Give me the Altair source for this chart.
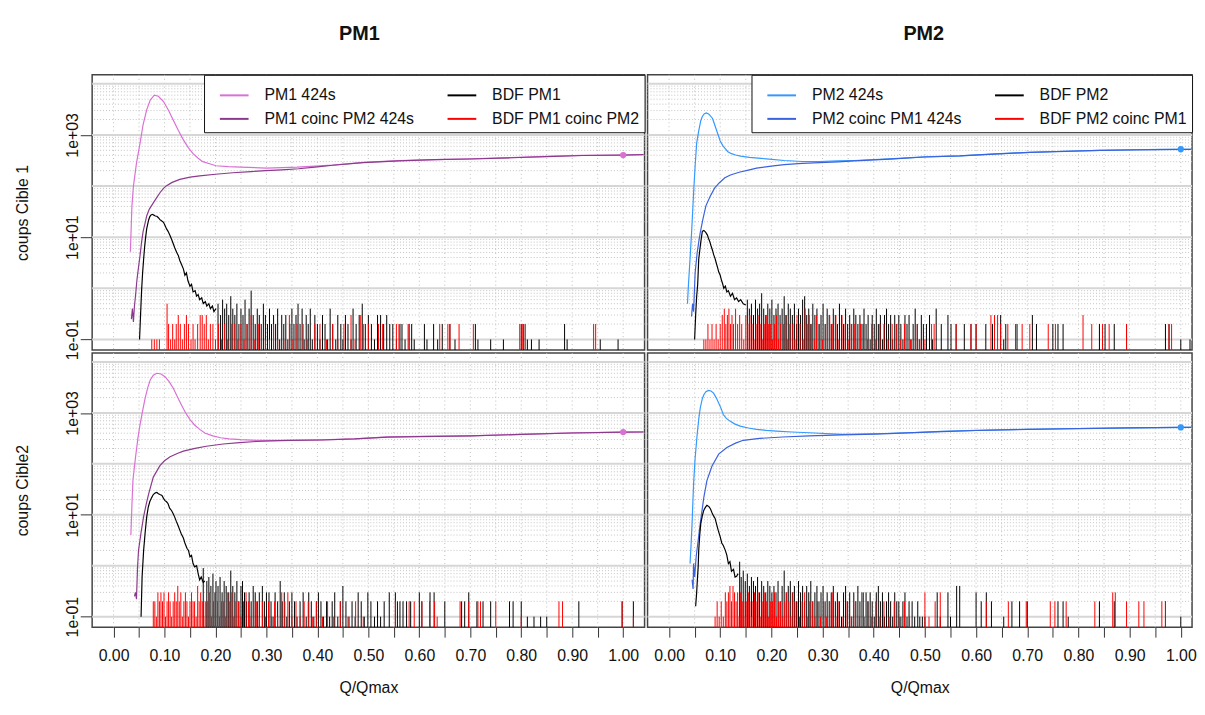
import altair as alt
import pandas as pd

FONT = "Liberation Sans"

# ---------------- axis ticks / labels ----------------
X_TICKS = [0.00, 0.05, 0.10, 0.15, 0.20, 0.25, 0.30, 0.35, 0.40, 0.45, 0.50,
           0.55, 0.60, 0.65, 0.70, 0.75, 0.80, 0.85, 0.90, 0.95, 1.00]
Y_TICKS = [0.1, 10, 1000]
Y_TICK_LABELS = ["1e-01", "1e+01", "1e+03"]
Y_DECADES = [0.1, 1, 10, 100, 1000, 10000]
Y_MINOR = [k * d for d in [0.1, 1, 10, 100, 1000] for k in range(2, 10)]
Y_DOMAIN = [0.062, 15000]

# legend order (column-major): col 1 = signal curves, col 2 = background
LEG_PM1 = ["PM1 424s", "PM1 coinc PM2 424s", "BDF PM1", "BDF PM1 coinc PM2"]
LEG_PM2 = ["PM2 424s", "PM2 coinc PM1 424s", "BDF PM2", "BDF PM2 coinc PM1"]
COL_PM1 = ["#DA70D6", "#8B3A8B", "#000000", "#FF0000"]
COL_PM2 = ["#3399FF", "#3A62DE", "#000000", "#FF0000"]

# ---------------- Top-left: PM1, Cible 1 ----------------
tl_a = [(0.033,5.2),(0.036,40),(0.039,100),(0.045,280),(0.052,690),(0.058,1600),(0.065,3100),
        (0.072,4800),(0.080,6000),(0.088,5700),(0.098,4500),(0.108,3000),(0.117,1950),(0.127,1230),
        (0.137,800),(0.147,560),(0.156,430),(0.166,350),(0.175,300),(0.190,270),(0.201,250),
        (0.225,240),(0.250,235),(0.300,225),(0.360,235),(0.430,257),(0.490,290),(0.560,315),
        (0.630,330),(0.700,340),(0.780,360),(0.850,380),(0.920,398),(1.000,405),(1.040,414)]
tl_b = [(0.035,0.25),(0.037,0.4),(0.039,0.22),(0.041,0.45),(0.043,0.7),(0.046,1.5),(0.049,2.6),
        (0.052,4.4),(0.055,8),(0.058,13),(0.062,19),(0.065,26),(0.070,35),(0.078,47),(0.085,60),
        (0.091,74),(0.098,90),(0.104,102),(0.115,118),(0.130,135),(0.150,150),(0.169,158),
        (0.200,170),(0.234,182),(0.270,192),(0.298,200),(0.330,208),(0.363,218),(0.400,238),
        (0.430,255),(0.490,288),(0.560,312),(0.630,328),(0.700,338),(0.780,358),(0.850,378),
        (0.920,396),(1.000,404),(1.040,411)]
tl_c = [(0.051,0.1),(0.053,0.3),(0.055,0.9),(0.057,2.0),(0.059,3.7),(0.061,6.5),(0.063,10),
        (0.065,14.5),(0.067,18),(0.069,22),(0.071,25),(0.073,27),(0.076,28),(0.079,27),(0.082,26),
        (0.085,25.7),(0.088,24),(0.091,22),(0.094,21),(0.098,19.5),(0.101,17),(0.104,14.5),
        (0.107,13),(0.111,10.7),(0.114,9),(0.117,7.5),(0.120,6.2),(0.124,5.0),(0.127,4.4),
        (0.130,3.5),(0.133,3.0),(0.137,2.4),(0.140,1.8),(0.143,2.0),(0.146,1.4),(0.150,1.1),
        (0.153,1.2),(0.156,0.85),(0.160,0.9),(0.163,0.7),(0.166,0.75),(0.169,0.6),(0.173,0.65),
        (0.176,0.5),(0.180,0.55),(0.183,0.45),(0.187,0.5),(0.190,0.4),(0.194,0.45),(0.197,0.35),
        (0.201,0.4)]
tl_ct = [(0.205,0.5),(0.21,0.3),(0.214,0.6),(0.218,0.4),(0.222,0.5),(0.226,0.3),(0.23,0.7),
         (0.234,0.4),(0.238,0.3),(0.242,0.5),(0.246,0.2),(0.25,0.4),(0.254,0.3),(0.258,0.6),
         (0.262,0.2),(0.266,0.4),(0.27,0.9),(0.274,0.3),(0.278,0.2),(0.282,0.4),(0.286,0.3),
         (0.29,0.2),(0.294,0.5),(0.298,0.3),(0.302,0.2),(0.306,0.4),(0.31,0.2),(0.314,0.3),
         (0.318,0.2),(0.322,0.4),(0.326,0.1),(0.33,0.3),(0.334,0.2),(0.338,0.3),(0.342,0.1),
         (0.346,0.2),(0.35,0.4),(0.354,0.2),(0.358,0.3),(0.362,0.5),(0.366,0.2),(0.37,0.4),
         (0.374,0.1),(0.378,0.3),(0.382,0.2),(0.386,0.4),(0.39,0.1),(0.395,0.3),(0.40,0.2),
         (0.405,0.1),(0.41,0.3),(0.415,0.2),(0.42,0.1),(0.425,0.4),(0.43,0.2),(0.436,0.1),
         (0.44,0.3),(0.446,0.2),(0.45,0.1),(0.455,0.3),(0.46,0.2),(0.466,0.1),(0.47,0.4),
         (0.476,0.2),(0.482,0.3),(0.488,0.5),(0.494,0.2),(0.5,0.3),(0.506,0.2),(0.512,0.1),
         (0.518,0.3),(0.524,0.3),(0.53,0.2),(0.536,0.3),(0.542,0.2),(0.548,0.2),(0.555,0.1),
         (0.562,0.2),(0.566,0.2),(0.572,0.1),(0.58,0.2),(0.585,0.2),(0.59,0.1),(0.61,0.2),
         (0.615,0.1),(0.628,0.2),(0.636,0.1),(0.645,0.2),(0.66,0.2),(0.67,0.1),(0.71,0.2),
         (0.715,0.1),(0.74,0.1),(0.765,0.1),(0.8,0.2),(0.805,0.2),(0.812,0.1),(0.82,0.1),
         (0.835,0.1),(0.885,0.2),(0.89,0.1),(0.955,0.1),(0.99,0.1)]
tl_r = [(0.075,0.1),(0.08,0.1),(0.085,0.1),(0.09,0.1),(0.105,0.5),(0.108,0.2),(0.112,0.1),
        (0.116,0.2),(0.12,0.1),(0.123,0.2),(0.127,0.3),(0.131,0.2),(0.135,0.1),(0.139,0.2),
        (0.143,0.3),(0.147,0.2),(0.152,0.1),(0.156,0.2),(0.16,0.1),(0.165,0.2),(0.17,0.3),
        (0.174,0.3),(0.178,0.2),(0.182,0.3),(0.186,0.1),(0.19,0.2),(0.195,0.2),(0.2,0.1),
        (0.206,0.2),(0.212,0.1),(0.218,0.2),(0.224,0.1),(0.232,0.2),(0.238,0.2),(0.244,0.1),
        (0.25,0.2),(0.256,0.1),(0.262,0.2),(0.27,0.3),(0.276,0.1),(0.284,0.2),(0.29,0.2),
        (0.298,0.1),(0.306,0.1),(0.314,0.2),(0.322,0.1),(0.334,0.1),(0.345,0.3),(0.352,0.1),
        (0.36,0.2),(0.372,0.2),(0.38,0.1),(0.395,0.2),(0.405,0.2),(0.418,0.1),(0.43,0.2),
        (0.44,0.1),(0.452,0.2),(0.466,0.3),(0.474,0.1),(0.485,0.3),(0.49,0.2),(0.5,0.2),
        (0.52,0.2),(0.528,0.2),(0.555,0.2),(0.56,0.2),(0.578,0.2),(0.64,0.2),(0.656,0.2),
        (0.66,0.2),(0.678,0.2),(0.706,0.2),(0.797,0.2),(0.802,0.2),(0.808,0.2),(0.942,0.2),
        (0.946,0.2)]
tl_dot = [(1.0, 405)]

# ---------------- Top-right: PM2, Cible 1 ----------------
tr_a = [(0.036,0.5),(0.038,1.2),(0.041,3.7),(0.044,12),(0.048,74),(0.051,250),(0.054,690),
        (0.058,1200),(0.062,1900),(0.065,2300),(0.069,2600),(0.073,2700),(0.078,2550),
        (0.085,2100),(0.090,1500),(0.095,1070),(0.100,760),(0.105,620),(0.109,550),(0.115,470),
        (0.122,430),(0.130,405),(0.140,385),(0.157,365),(0.190,340),(0.225,316),(0.260,302),
        (0.294,302),(0.330,310),(0.362,316),(0.431,340),(0.499,372),(0.568,390),(0.636,425),
        (0.705,457),(0.773,480),(0.842,500),(0.910,513),(0.960,520),(1.000,525),(1.020,525)]
tr_b = [(0.044,0.28),(0.046,0.5),(0.048,0.35),(0.051,2.0),(0.055,5),(0.058,8),(0.061,12.3),
        (0.066,22),(0.072,41),(0.080,62),(0.089,91),(0.098,115),(0.109,145),(0.120,165),
        (0.137,186),(0.155,205),(0.171,224),(0.200,245),(0.225,263),(0.260,278),(0.294,288),
        (0.330,298),(0.362,312),(0.431,337),(0.499,370),(0.568,388),(0.636,423),(0.705,455),
        (0.773,478),(0.842,498),(0.910,511),(0.960,518),(1.000,523),(1.020,524)]
tr_c = [(0.050,0.1),(0.052,0.3),(0.054,0.7),(0.056,1.2),(0.058,3.7),(0.060,5.5),(0.062,8),
        (0.065,13),(0.068,13.5),(0.070,13),(0.072,12.3),(0.075,11),(0.077,9.5),(0.080,8),
        (0.082,6.8),(0.085,5.5),(0.087,4.6),(0.090,3.8),(0.092,3.2),(0.095,2.5),(0.097,2.1),
        (0.100,1.8),(0.102,1.5),(0.105,1.2),(0.107,1.0),(0.110,1.1),(0.113,0.85),(0.116,0.9),
        (0.120,0.7),(0.124,0.8),(0.128,0.6),(0.132,0.65),(0.136,0.55),(0.140,0.6),(0.145,0.5),
        (0.150,0.47)]
tr_ct = [(0.153,0.6),(0.157,0.4),(0.161,0.5),(0.165,0.3),(0.169,0.6),(0.173,0.4),(0.177,0.5),
         (0.181,0.8),(0.185,0.4),(0.189,0.3),(0.193,0.5),(0.197,0.4),(0.201,0.6),(0.205,0.3),
         (0.209,0.4),(0.213,0.5),(0.217,0.3),(0.221,0.4),(0.225,0.7),(0.229,0.3),(0.233,0.5),
         (0.237,0.4),(0.241,0.3),(0.245,0.5),(0.249,0.2),(0.253,0.4),(0.257,0.3),(0.261,0.6),
         (0.265,0.7),(0.269,0.3),(0.273,0.4),(0.277,0.2),(0.281,0.5),(0.285,0.3),(0.289,0.4),
         (0.293,0.2),(0.297,0.3),(0.301,0.5),(0.305,0.2),(0.309,0.4),(0.313,0.3),(0.317,0.2),
         (0.321,0.4),(0.325,0.3),(0.329,0.2),(0.333,0.5),(0.337,0.3),(0.341,0.2),(0.345,0.4),
         (0.349,0.2),(0.353,0.3),(0.357,0.2),(0.361,0.4),(0.365,0.3),(0.369,0.2),(0.373,0.3),
         (0.377,0.2),(0.381,0.4),(0.385,0.2),(0.389,0.3),(0.393,0.1),(0.397,0.3),(0.401,0.2),
         (0.405,0.4),(0.409,0.2),(0.413,0.3),(0.417,0.1),(0.421,0.3),(0.425,0.4),(0.429,0.2),
         (0.433,0.3),(0.437,0.1),(0.441,0.3),(0.445,0.2),(0.449,0.3),(0.453,0.2),(0.457,0.1),
         (0.461,0.3),(0.465,0.2),(0.469,0.3),(0.473,0.1),(0.477,0.2),(0.481,0.4),(0.485,0.2),
         (0.489,0.1),(0.493,0.3),(0.497,0.2),(0.503,0.2),(0.509,0.3),(0.515,0.1),(0.522,0.4),
         (0.532,0.2),(0.545,0.3),(0.551,0.2),(0.561,0.2),(0.577,0.2),(0.59,0.2),(0.6,0.2),
         (0.619,0.2),(0.632,0.2),(0.648,0.3),(0.654,0.1),(0.658,0.2),(0.68,0.2),(0.71,0.3),
         (0.718,0.2),(0.75,0.2),(0.76,0.2),(0.77,0.2),(0.841,0.2),(0.847,0.1),(0.852,0.2),
         (0.87,0.2),(0.894,0.2),(0.97,0.2),(0.977,0.2),(1.0,0.1),(1.018,0.1)]
tr_r = [(0.068,0.1),(0.072,0.1),(0.076,0.2),(0.08,0.1),(0.084,0.2),(0.088,0.1),(0.092,0.2),
        (0.096,0.1),(0.1,0.2),(0.104,0.3),(0.108,0.4),(0.111,0.2),(0.114,0.3),(0.117,0.4),
        (0.12,0.2),(0.123,0.3),(0.126,0.2),(0.13,0.4),(0.134,0.2),(0.138,0.3),(0.142,0.2),
        (0.146,0.1),(0.15,0.3),(0.154,0.2),(0.158,0.3),(0.162,0.2),(0.166,0.1),(0.17,0.2),
        (0.174,0.3),(0.178,0.2),(0.182,0.1),(0.186,0.2),(0.19,0.3),(0.194,0.2),(0.198,0.2),
        (0.202,0.1),(0.206,0.2),(0.21,0.3),(0.214,0.1),(0.218,0.2),(0.224,0.2),(0.228,0.3),
        (0.232,0.1),(0.236,0.2),(0.242,0.2),(0.246,0.1),(0.25,0.3),(0.256,0.2),(0.262,0.1),
        (0.266,0.4),(0.27,0.2),(0.274,0.3),(0.278,0.2),(0.284,0.1),(0.288,0.3),(0.294,0.2),
        (0.3,0.1),(0.306,0.2),(0.314,0.3),(0.32,0.2),(0.326,0.3),(0.332,0.1),(0.338,0.3),
        (0.344,0.2),(0.35,0.1),(0.356,0.2),(0.362,0.2),(0.368,0.1),(0.374,0.2),(0.38,0.2),
        (0.388,0.1),(0.396,0.2),(0.404,0.1),(0.412,0.2),(0.42,0.2),(0.428,0.1),(0.436,0.2),
        (0.444,0.2),(0.452,0.1),(0.46,0.2),(0.472,0.1),(0.482,0.2),(0.49,0.1),(0.5,0.1),
        (0.513,0.2),(0.518,0.2),(0.561,0.2),(0.59,0.2),(0.6,0.2),(0.629,0.3),(0.636,0.3),
        (0.642,0.3),(0.648,0.2),(0.662,0.2),(0.677,0.2),(0.69,0.2),(0.705,0.2),(0.741,0.2),
        (0.755,0.2),(0.809,0.3),(0.826,0.2),(0.847,0.2),(0.86,0.2),(0.894,0.2),(0.977,0.2),
        (0.982,0.2)]
tr_dot = [(1.0, 525)]

# ---------------- Bottom-left: PM1, Cible2 ----------------
bl_a = [(0.034,4),(0.036,15),(0.038,47),(0.043,132),(0.048,330),(0.052,590),(0.057,1100),
        (0.062,1950),(0.067,3100),(0.072,4450),(0.078,5500),(0.085,6000),(0.093,5800),
        (0.101,5150),(0.109,4100),(0.117,3080),(0.125,2100),(0.133,1450),(0.141,1020),
        (0.150,740),(0.159,580),(0.169,475),(0.180,400),(0.195,355),(0.210,325),(0.227,310),
        (0.250,298),(0.279,290),(0.344,290),(0.408,295),(0.473,310),(0.538,338),(0.600,345),
        (0.700,355),(0.800,380),(0.900,405),(1.000,420),(1.040,424)]
bl_b = [(0.041,0.25),(0.043,0.3),(0.045,0.22),(0.047,0.9),(0.049,2.0),(0.054,4.5),(0.059,9.2),
        (0.064,16),(0.069,26),(0.078,55),(0.091,92),(0.100,115),(0.111,138),(0.125,160),
        (0.137,178),(0.160,202),(0.182,222),(0.215,245),(0.247,262),(0.280,275),(0.311,283),
        (0.344,288),(0.408,294),(0.473,309),(0.538,336),(0.600,343),(0.700,353),(0.800,378),
        (0.900,403),(1.000,418),(1.040,422)]
bl_c = [(0.054,0.1),(0.056,0.6),(0.059,2.0),(0.062,4.5),(0.065,9),(0.068,14),(0.071,18),
        (0.075,22),(0.078,25),(0.082,27),(0.085,27.5),(0.088,26),(0.091,25),(0.095,24),
        (0.098,21),(0.101,19),(0.104,18),(0.107,16.5),(0.110,13.5),(0.114,12),(0.117,10.5),
        (0.120,9),(0.123,7.5),(0.127,6),(0.130,5),(0.133,4.2),(0.137,3.5),(0.140,2.8),
        (0.144,2.2),(0.147,2.0),(0.150,1.5),(0.153,1.6),(0.156,1.1),(0.159,0.95),(0.163,1.0),
        (0.166,0.7),(0.169,0.53),(0.172,0.6),(0.176,0.47),(0.179,0.5)]
bl_ct = [(0.176,0.9),(0.183,0.5),(0.187,0.6),(0.191,0.4),(0.195,0.7),(0.199,0.3),(0.201,0.5),
         (0.205,0.4),(0.209,0.6),(0.213,0.3),(0.217,0.5),(0.221,0.4),(0.226,0.3),(0.23,0.8),
         (0.234,0.4),(0.238,0.3),(0.242,0.5),(0.246,0.2),(0.25,0.4),(0.253,0.5),(0.257,0.3),
         (0.261,0.2),(0.266,0.3),(0.27,0.2),(0.274,0.4),(0.278,0.3),(0.282,0.2),(0.286,0.3),
         (0.292,0.4),(0.296,0.2),(0.3,0.3),(0.305,0.3),(0.309,0.2),(0.313,0.1),(0.317,0.3),
         (0.322,0.2),(0.327,0.5),(0.331,0.2),(0.335,0.3),(0.34,0.1),(0.345,0.2),(0.35,0.3),
         (0.355,0.2),(0.36,0.1),(0.366,0.2),(0.372,0.3),(0.378,0.1),(0.383,0.3),(0.388,0.2),
         (0.393,0.1),(0.398,0.2),(0.402,0.3),(0.407,0.2),(0.412,0.1),(0.418,0.2),(0.424,0.1),
         (0.429,0.2),(0.434,0.3),(0.44,0.1),(0.445,0.2),(0.45,0.4),(0.456,0.2),(0.462,0.1),
         (0.468,0.2),(0.474,0.1),(0.48,0.3),(0.486,0.2),(0.492,0.1),(0.499,0.3),(0.505,0.2),
         (0.512,0.1),(0.518,0.2),(0.524,0.1),(0.531,0.2),(0.541,0.3),(0.553,0.3),(0.557,0.2),
         (0.562,0.2),(0.568,0.2),(0.575,0.2),(0.583,0.2),(0.6,0.3),(0.605,0.2),(0.621,0.3),
         (0.629,0.3),(0.65,0.2),(0.683,0.2),(0.689,0.2),(0.697,0.3),(0.713,0.2),(0.725,0.2),
         (0.74,0.2),(0.777,0.2),(0.784,0.2),(0.8,0.2),(0.812,0.1),(0.825,0.1),(0.838,0.1),
         (0.85,0.1),(0.913,0.2),(0.998,0.2),(1.02,0.2)]
bl_r = [(0.078,0.2),(0.081,0.2),(0.084,0.1),(0.087,0.3),(0.09,0.2),(0.093,0.3),(0.096,0.2),
        (0.099,0.3),(0.102,0.1),(0.105,0.2),(0.108,0.3),(0.111,0.2),(0.114,0.1),(0.117,0.2),
        (0.12,0.3),(0.123,0.2),(0.126,0.4),(0.129,0.2),(0.132,0.3),(0.135,0.1),(0.138,0.2),
        (0.141,0.3),(0.144,0.2),(0.147,0.1),(0.15,0.2),(0.153,0.3),(0.156,0.2),(0.159,0.2),
        (0.162,0.1),(0.165,0.4),(0.168,0.2),(0.171,0.3),(0.174,0.2),(0.177,0.1),(0.18,0.2),
        (0.184,0.2),(0.188,0.3),(0.192,0.1),(0.196,0.2),(0.2,0.3),(0.204,0.2),(0.208,0.1),
        (0.212,0.2),(0.216,0.2),(0.22,0.1),(0.224,0.3),(0.228,0.2),(0.232,0.3),(0.236,0.1),
        (0.24,0.2),(0.245,0.2),(0.25,0.1),(0.255,0.2),(0.26,0.3),(0.265,0.2),(0.27,0.1),
        (0.275,0.2),(0.28,0.2),(0.286,0.1),(0.292,0.2),(0.298,0.1),(0.304,0.2),(0.31,0.1),
        (0.316,0.2),(0.322,0.1),(0.33,0.3),(0.336,0.2),(0.342,0.3),(0.35,0.1),(0.358,0.2),
        (0.366,0.1),(0.374,0.2),(0.382,0.2),(0.39,0.1),(0.398,0.2),(0.41,0.1),(0.42,0.2),
        (0.432,0.1),(0.445,0.2),(0.46,0.1),(0.475,0.2),(0.49,0.1),(0.553,0.2),(0.58,0.2),
        (0.59,0.2),(0.605,0.2),(0.62,0.2),(0.63,0.2),(0.635,0.1),(0.68,0.2),(0.697,0.2),
        (0.715,0.2),(0.72,0.2),(0.75,0.2),(0.8,0.1),(0.874,0.2),(0.881,0.2),(0.998,0.2),
        (1.02,0.1)]
bl_dot = [(1.0, 420)]

# ---------------- Bottom-right: PM2, Cible2 ----------------
br_a = [(0.041,1.1),(0.043,2.5),(0.045,6.8),(0.048,41),(0.051,130),(0.055,380),(0.058,750),
        (0.061,1250),(0.065,1900),(0.068,2280),(0.072,2600),(0.077,2770),(0.082,2700),
        (0.087,2450),(0.092,2000),(0.097,1560),(0.102,1200),(0.106,930),(0.112,780),(0.119,690),
        (0.128,610),(0.139,550),(0.155,505),(0.171,475),(0.190,455),(0.210,440),(0.240,422),
        (0.274,408),(0.338,380),(0.403,390),(0.467,408),(0.532,434),(0.600,455),(0.700,478),
        (0.800,495),(0.900,510),(1.000,520),(1.020,521)]
br_b = [(0.045,0.53),(0.047,0.35),(0.048,1.1),(0.050,0.6),(0.053,1.5),(0.057,3.2),(0.061,6.8),
        (0.068,22),(0.074,47),(0.084,91),(0.097,155),(0.113,209),(0.130,255),(0.145,290),
        (0.177,316),(0.222,337),(0.274,353),(0.338,370),(0.403,385),(0.467,405),(0.532,431),
        (0.600,452),(0.700,476),(0.800,493),(0.900,508),(1.000,518),(1.020,519)]
br_c = [(0.052,0.16),(0.054,0.3),(0.055,0.46),(0.057,1.0),(0.058,2.0),(0.060,4.0),(0.062,6.7),
        (0.065,9.5),(0.068,12.3),(0.071,14),(0.074,15.3),(0.078,14.5),(0.081,13),(0.084,11),
        (0.087,9.5),(0.090,8.5),(0.093,6.5),(0.096,5),(0.100,3.7),(0.103,2.8),(0.106,2.5),
        (0.110,2.0),(0.113,1.6),(0.116,1.1),(0.119,1.2),(0.122,0.78),(0.126,0.85),(0.129,0.6),
        (0.132,0.62),(0.135,0.7)]
br_ct = [(0.138,1.2),(0.141,0.6),(0.145,0.8),(0.149,0.5),(0.153,0.7),(0.157,0.4),(0.161,0.6),
         (0.165,0.5),(0.169,0.4),(0.173,0.6),(0.177,0.3),(0.181,0.5),(0.185,0.4),(0.189,0.3),
         (0.193,0.5),(0.197,0.4),(0.201,0.3),(0.205,0.4),(0.209,0.3),(0.213,0.5),(0.217,0.2),
         (0.221,0.4),(0.225,0.8),(0.229,0.3),(0.233,0.4),(0.237,0.5),(0.241,0.3),(0.245,0.4),
         (0.249,0.2),(0.253,0.5),(0.257,0.3),(0.261,0.4),(0.265,0.2),(0.269,0.4),(0.273,0.3),
         (0.277,0.5),(0.281,0.2),(0.285,0.3),(0.289,0.4),(0.293,0.2),(0.297,0.3),(0.301,0.4),
         (0.305,0.2),(0.309,0.3),(0.313,0.2),(0.317,0.3),(0.321,0.4),(0.325,0.2),(0.329,0.3),
         (0.333,0.2),(0.337,0.1),(0.341,0.3),(0.345,0.4),(0.349,0.2),(0.353,0.3),(0.357,0.1),
         (0.361,0.3),(0.365,0.2),(0.369,0.4),(0.373,0.2),(0.377,0.3),(0.381,0.1),(0.385,0.3),
         (0.389,0.2),(0.393,0.3),(0.397,0.2),(0.401,0.1),(0.405,0.3),(0.409,0.4),(0.413,0.2),
         (0.417,0.3),(0.421,0.1),(0.425,0.2),(0.429,0.3),(0.433,0.2),(0.437,0.1),(0.441,0.3),
         (0.445,0.2),(0.449,0.2),(0.453,0.1),(0.457,0.2),(0.461,0.3),(0.465,0.1),(0.469,0.2),
         (0.475,0.2),(0.48,0.1),(0.486,0.2),(0.49,0.1),(0.495,0.1),(0.5,0.1),(0.524,0.3),
         (0.53,0.1),(0.545,0.3),(0.55,0.1),(0.562,0.4),(0.568,0.4),(0.6,0.3),(0.61,0.2),
         (0.62,0.3),(0.63,0.2),(0.654,0.1),(0.67,0.2),(0.685,0.2),(0.7,0.2),(0.76,0.2),
         (0.77,0.2),(0.78,0.1),(0.841,0.2),(0.87,0.2),(0.97,0.2),(1.0,0.1)]
br_r = [(0.09,0.1),(0.094,0.2),(0.098,0.1),(0.102,0.2),(0.106,0.1),(0.11,0.3),(0.113,0.2),
        (0.116,0.3),(0.119,0.4),(0.122,0.2),(0.125,0.4),(0.128,0.3),(0.131,0.2),(0.134,0.3),
        (0.137,0.1),(0.14,0.3),(0.143,0.2),(0.146,0.2),(0.149,0.1),(0.152,0.2),(0.155,0.3),
        (0.158,0.2),(0.161,0.1),(0.164,0.2),(0.167,0.3),(0.17,0.2),(0.174,0.3),(0.178,0.1),
        (0.182,0.2),(0.186,0.3),(0.19,0.2),(0.194,0.1),(0.198,0.2),(0.202,0.2),(0.206,0.3),
        (0.21,0.1),(0.214,0.2),(0.218,0.2),(0.222,0.1),(0.226,0.2),(0.23,0.3),(0.234,0.2),
        (0.238,0.1),(0.242,0.3),(0.246,0.2),(0.25,0.2),(0.255,0.1),(0.26,0.2),(0.265,0.3),
        (0.27,0.1),(0.275,0.2),(0.28,0.2),(0.285,0.1),(0.29,0.2),(0.296,0.1),(0.302,0.2),
        (0.308,0.1),(0.314,0.2),(0.32,0.3),(0.326,0.1),(0.332,0.2),(0.34,0.1),(0.348,0.2),
        (0.356,0.1),(0.364,0.2),(0.372,0.1),(0.38,0.3),(0.388,0.2),(0.396,0.1),(0.404,0.2),
        (0.412,0.1),(0.42,0.2),(0.43,0.1),(0.44,0.2),(0.45,0.1),(0.46,0.2),(0.47,0.1),
        (0.5,0.3),(0.508,0.1),(0.52,0.2),(0.53,0.3),(0.62,0.2),(0.663,0.2),(0.698,0.2),
        (0.745,0.2),(0.754,0.2),(0.776,0.2),(0.832,0.2),(0.867,0.3),(0.872,0.3),(0.894,0.2),
        (0.918,0.2),(0.928,0.2),(0.963,0.2),(0.97,0.2)]
br_dot = [(1.0, 520)]

# ---------------- expressions for labels ----------------
X_LABEL_EXPR = "round(datum.value*100) % 10 == 0 ? format(datum.value, '.2f') : ''"
_lg = "round(log(datum.value)/LN10)"
_exps = [-1, 1, 3]
Y_LABEL_EXPR = (f"{_lg} == {_exps[0]} ? '{Y_TICK_LABELS[0]}' : "
                f"{_lg} == {_exps[1]} ? '{Y_TICK_LABELS[1]}' : '{Y_TICK_LABELS[2]}'")


def df(pairs, name=None):
    d = pd.DataFrame(pairs, columns=["x", "y"])
    if name is not None:
        d["s"] = name
    return d


def panel(a, b, c, ct, r, dot, names, colors, w, h, xdom, left, bottom,
          title=None, ytitle=None, legend=False, title_dx=0):
    xs = alt.Scale(domain=xdom, nice=False, zero=False)
    ys = alt.Scale(type="log", domain=Y_DOMAIN, nice=False)
    if bottom:
        xaxis = alt.Axis(values=X_TICKS, labelExpr=X_LABEL_EXPR, tickSize=10,
                         tickColor="#333333", domain=False, grid=False, labelFontSize=16,
                         labelPadding=11, labelOverlap=False, labelFlush=False,
                         labelColor="#111111", title="Q/Qmax", titleFontSize=16,
                         titleFontWeight="normal", titlePadding=16, titleColor="#111111")
    else:
        xaxis = None
    if left:
        yaxis = alt.Axis(values=Y_TICKS, labelExpr=Y_LABEL_EXPR, grid=False, domain=False,
                         tickSize=12, tickColor="#333333", labelAngle=-90,
                         labelAlign="center", labelBaseline="bottom", labelPadding=0,
                         labelFontSize=16, labelColor="#111111", title=ytitle,
                         titleFontSize=16, titleFontWeight="normal", titlePadding=34,
                         titleColor="#111111")
    else:
        yaxis = None
    X = alt.X("x:Q", scale=xs, axis=xaxis)
    Y = alt.Y("y:Q", scale=ys, axis=yaxis)
    if legend:
        leg = alt.Legend(orient="top-right", offset=0, title=None, columns=2,
                         fillColor="white", strokeColor="#111111",
                         padding=5, rowPadding=-8, columnPadding=22,
                         symbolType="stroke", symbolSize=841, symbolStrokeWidth=2,
                         symbolOffset=10, labelOffset=15, labelFontSize=16,
                         labelFont=FONT, labelColor="#111111", labelLimit=0)
    else:
        leg = None
    C = alt.Color("s:N", scale=alt.Scale(domain=names, range=colors), legend=leg)

    vgrid = alt.Chart(pd.DataFrame({"x": X_TICKS})).mark_rule(
        color="#BDBDBD", strokeWidth=1, strokeDash=[1, 3]).encode(x=X)
    dec = alt.Chart(pd.DataFrame({"y": Y_DECADES})).mark_rule(
        color="#D6D6D6", strokeWidth=2).encode(y=Y)
    minor = alt.Chart(pd.DataFrame({"y": Y_MINOR})).mark_rule(
        color="#C4C4C4", strokeWidth=1, strokeDash=[1, 2]).encode(y=Y)
    la = alt.Chart(df(a, names[0])).mark_line(strokeWidth=1.2, clip=True).encode(x=X, y=Y, color=C)
    lb = alt.Chart(df(b, names[1])).mark_line(strokeWidth=1.2, clip=True).encode(x=X, y=Y, color=C)
    lc = alt.Chart(df(c, names[2])).mark_line(strokeWidth=1.2, clip=True).encode(x=X, y=Y, color=C)
    rc = alt.Chart(df(ct, names[2])).mark_rule(strokeWidth=1, clip=True).encode(
        x=X, y=Y, y2=alt.datum(0.01), color=C)
    rr = alt.Chart(df(r, names[3])).mark_rule(strokeWidth=1, clip=True).encode(
        x=X, y=Y, y2=alt.datum(0.01), color=C)
    pt = alt.Chart(df(dot)).mark_circle(size=40, opacity=1, color=colors[0]).encode(x=X, y=Y)

    ch = alt.layer(vgrid, dec, minor, la, lb, lc, rc, rr, pt).properties(width=w, height=h)
    if title:
        ch = ch.properties(title=alt.TitleParams(
            text=title, fontSize=20, fontWeight="bold", font=FONT, anchor="middle",
            frame="group", offset=31, dx=title_dx, color="#111111"))
    return ch


XDOM_L = [-0.042, 1.042]
XDOM_R = [-0.042, 1.022]

tl = panel(tl_a, tl_b, tl_c, tl_ct, tl_r, tl_dot, LEG_PM1, COL_PM1, 558, 278, XDOM_L,
           left=True, bottom=False, title="PM1", ytitle="coups Cible 1", legend=True, title_dx=-9)
tr = panel(tr_a, tr_b, tr_c, tr_ct, tr_r, tr_dot, LEG_PM2, COL_PM2, 550, 278, XDOM_R,
           left=False, bottom=False, title="PM2", legend=True, title_dx=4)
bl = panel(bl_a, bl_b, bl_c, bl_ct, bl_r, bl_dot, LEG_PM1, COL_PM1, 558, 277, XDOM_L,
           left=True, bottom=True, ytitle="coups Cible2")
br = panel(br_a, br_b, br_c, br_ct, br_r, br_dot, LEG_PM2, COL_PM2, 550, 277, XDOM_R,
           left=False, bottom=True)

chart = alt.concat(tl, tr, bl, br, columns=2, spacing=3, bounds="flush").resolve_scale(
    color="independent", x="independent", y="independent"
).properties(
    padding={"left": 6, "top": 11, "right": 0, "bottom": 0}
).configure(font=FONT).configure_view(stroke="#444444", strokeWidth=1.5)

chart.save("out.html", embed_options={"renderer": "svg", "actions": False})
